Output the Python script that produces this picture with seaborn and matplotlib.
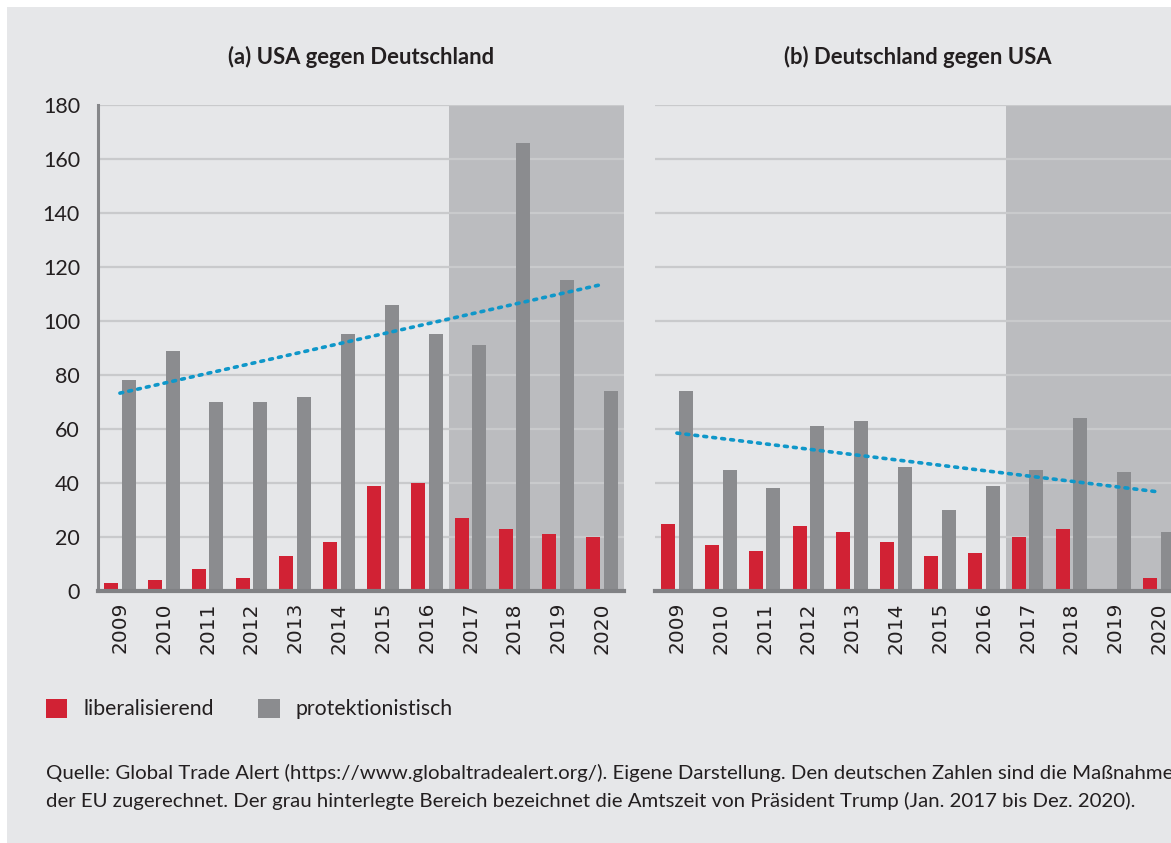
import numpy as np
import pandas as pd
import matplotlib
matplotlib.use("Agg")
import matplotlib.pyplot as plt
from matplotlib.patches import Rectangle, Patch
import seaborn as sns

years = ["2009", "2010", "2011", "2012", "2013", "2014",
         "2015", "2016", "2017", "2018", "2019", "2020"]
usa_lib = [3, 4, 8, 5, 13, 18, 39, 40, 27, 23, 21, 20]
usa_prot = [78, 89, 70, 70, 72, 95, 106, 95, 91, 166, 115, 74]
de_lib = [25, 17, 15, 24, 22, 18, 13, 14, 20, 23, 0, 5]
de_prot = [74, 45, 38, 61, 63, 46, 30, 39, 45, 64, 44, 22]
types = ["liberalisierend", "protektionistisch"]
titles = ["(a) USA gegen Deutschland", "(b) Deutschland gegen USA"]
trump_start, trump_end = "2017", "2020"
y_ticks = [0, 20, 40, 60, 80, 100, 120, 140, 160, 180]

RED = "#d12234"
GRAY = "#8b8c8f"
BG = "#e6e7e9"
SHADE = "#bbbcbf"
GRID = "#c9cacc"
BLUE = "#0f97c9"
TXT = "#231f20"
NARROW = ["Lato", "DejaVu Sans"]

W, H = 1171, 843
fig = plt.figure(figsize=(W / 100, H / 100), dpi=100, facecolor="white")
fig.patches.append(Rectangle((7 / W, 0), 1, (H - 7) / H, transform=fig.transFigure,
                             facecolor=BG, edgecolor="none", zorder=-10))

panels = [(usa_lib, usa_prot, 98), (de_lib, de_prot, 655)]
for i, (lib, prot, left_px) in enumerate(panels):
    ax = fig.add_axes([left_px / W, (H - 591) / H, 526 / W, 486 / H])
    ax.set_facecolor(BG)
    df = pd.DataFrame({
        "year": years * 2,
        "value": lib + prot,
        "typ": [types[0]] * len(years) + [types[1]] * len(years),
    })
    sns.barplot(data=df, x="year", y="value", hue="typ", order=years,
                hue_order=types, palette=[RED, GRAY], width=0.8, gap=0.2,
                saturation=1, legend=False, ax=ax, zorder=2)
    x0 = years.index(trump_start) - 0.5
    x1 = years.index(trump_end) + 0.5
    ax.axvspan(x0, x1, color=SHADE, lw=0, zorder=0.2)
    # linear trend of the protectionist measures
    sns.regplot(x=np.arange(len(years)), y=np.array(prot), scatter=False, ci=None,
                truncate=True, ax=ax, color=BLUE,
                line_kws=dict(lw=2.6, ls=(0, (0.8, 1.7)), dash_capstyle="round", zorder=3))
    ax.set_xlim(-0.5, len(years) - 0.5)
    ax.set_ylim(0, 180)
    ax.set_yticks(y_ticks)
    ax.set_axisbelow(True)
    ax.grid(axis="y", color=GRID, lw=1.6, zorder=0.5)
    ax.grid(axis="x", visible=False)
    ax.set_xlabel("")
    ax.set_ylabel("")
    for s in ["top", "right"]:
        ax.spines[s].set_visible(False)
    ax.spines["bottom"].set_color("#808184")
    ax.spines["bottom"].set_linewidth(3)
    ax.spines["bottom"].set_zorder(4)
    if i == 0:
        ax.spines["left"].set_color("#86878a")
        ax.spines["left"].set_linewidth(2.2)
        ax.tick_params(axis="y", length=0, pad=13, labelsize=15.5, labelcolor=TXT)
        for lab in ax.get_yticklabels():
            lab.set_family(NARROW)
    else:
        ax.spines["left"].set_visible(False)
        ax.tick_params(axis="y", length=0, labelleft=False)
    ax.tick_params(axis="x", length=0, pad=8, labelsize=14.5, labelcolor=TXT,
                   labelrotation=90)
    for lab in ax.get_xticklabels():
        lab.set_family("DejaVu Sans")
    fig.text((left_px + 263) / W, 1 - 57 / H, titles[i], ha="center", va="center",
             fontsize=15.8, fontweight="bold", color=TXT, family=NARROW)

handles = [Patch(facecolor=RED, edgecolor="none"), Patch(facecolor=GRAY, edgecolor="none")]
fig.legend(handles, types, loc="center left", bbox_to_anchor=(46 / W, 1 - 709 / H),
           ncol=2, frameon=False, borderpad=0, borderaxespad=0,
           handlelength=1.0, handleheight=1.0, handletextpad=0.75, columnspacing=2.1,
           prop={"family": NARROW, "size": 15.3}, labelcolor=TXT)

foot1 = ("Quelle: Global Trade Alert (https://www.globaltradealert.org/). Eigene Darstellung. "
         "Den deutschen Zahlen sind die Maßnahmen")
foot2 = ("der EU zugerechnet. Der grau hinterlegte Bereich bezeichnet die Amtszeit von "
         "Präsident Trump (Jan. 2017 bis Dez. 2020).")
fig.text(46 / W, 1 - 773 / H, foot1, ha="left", va="center", fontsize=14.7, color=TXT, family=NARROW)
fig.text(46 / W, 1 - 801 / H, foot2, ha="left", va="center", fontsize=14.7, color=TXT, family=NARROW)

fig.savefig("out.png", dpi=100, facecolor="white")
